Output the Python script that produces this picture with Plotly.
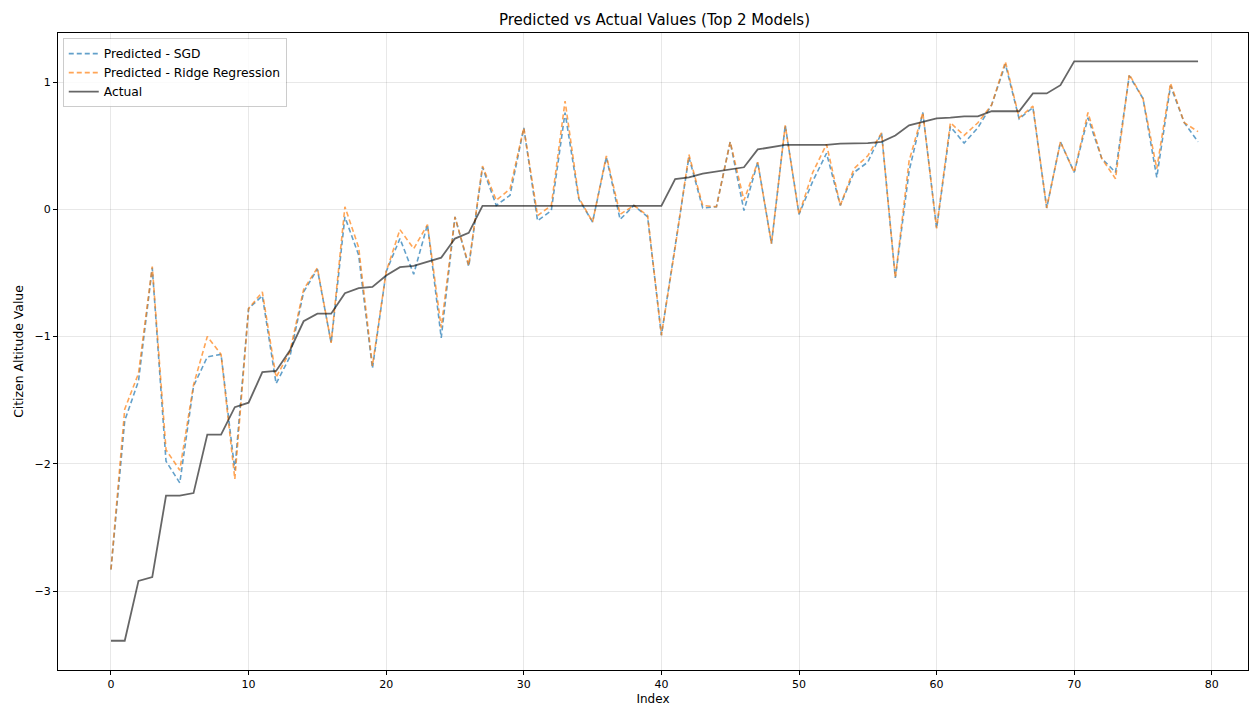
import plotly.graph_objects as go

index = list(range(80))

pred_sgd = [
    -2.83, -1.66, -1.35, -0.46, -1.98, -2.15, -1.39, -1.16, -1.14, -2.05,
    -0.78, -0.68, -1.37, -1.16, -0.65, -0.47, -1.05, -0.06, -0.36, -1.25,
    -0.49, -0.23, -0.51, -0.12, -1.01, -0.06, -0.45, 0.33, 0.03, 0.11,
    0.64, -0.09, -0.01, 0.76, 0.08, -0.10, 0.41, -0.08, 0.03, -0.06,
    -0.99, -0.30, 0.41, 0.01, 0.02, 0.53, -0.01, 0.37, -0.27, 0.66,
    -0.04, 0.22, 0.44, 0.03, 0.29, 0.37, 0.60, -0.54, 0.30, 0.76,
    -0.15, 0.65, 0.52, 0.64, 0.82, 1.14, 0.71, 0.80, 0.01, 0.53,
    0.29, 0.72, 0.40, 0.29, 1.05, 0.87, 0.25, 0.97, 0.68, 0.53,
]

pred_ridge = [
    -2.83, -1.57, -1.29, -0.45, -1.89, -2.05, -1.38, -1.00, -1.14, -2.12,
    -0.78, -0.65, -1.32, -1.12, -0.63, -0.46, -1.05, 0.02, -0.30, -1.23,
    -0.49, -0.16, -0.31, -0.12, -0.93, -0.06, -0.44, 0.34, 0.07, 0.16,
    0.64, -0.05, 0.03, 0.85, 0.09, -0.10, 0.42, -0.04, 0.03, -0.05,
    -0.99, -0.30, 0.43, 0.03, 0.02, 0.53, 0.07, 0.37, -0.27, 0.66,
    -0.04, 0.29, 0.51, 0.03, 0.32, 0.42, 0.60, -0.54, 0.38, 0.76,
    -0.15, 0.68, 0.58, 0.68, 0.82, 1.16, 0.72, 0.81, 0.01, 0.53,
    0.29, 0.76, 0.40, 0.24, 1.06, 0.87, 0.32, 0.99, 0.68, 0.61,
]

actual = [
    -3.39, -3.39, -2.92, -2.89, -2.25, -2.25, -2.23, -1.77, -1.77, -1.555,
    -1.52, -1.28, -1.27, -1.11, -0.88, -0.82, -0.82, -0.66, -0.62, -0.61,
    -0.52, -0.455, -0.445, -0.41, -0.38, -0.23, -0.185, 0.026, 0.026, 0.026,
    0.026, 0.026, 0.026, 0.026, 0.026, 0.026, 0.026, 0.026, 0.026, 0.026,
    0.026, 0.237, 0.25, 0.28, 0.295, 0.31, 0.33, 0.47, 0.487, 0.506,
    0.506, 0.506, 0.506, 0.516, 0.52, 0.52, 0.53, 0.58, 0.66, 0.69,
    0.715, 0.72, 0.73, 0.73, 0.77, 0.77, 0.77, 0.91, 0.91, 0.975,
    1.162, 1.162, 1.162, 1.162, 1.162, 1.162, 1.162, 1.162, 1.162, 1.162,
]

FONT = "DejaVu Sans"

fig = go.Figure()
fig.add_trace(go.Scatter(
    x=index, y=pred_sgd, mode="lines", name="Predicted - SGD",
    line=dict(color="rgba(31,119,180,0.7)", width=1.6, dash="5px,3px"),
))
fig.add_trace(go.Scatter(
    x=index, y=pred_ridge, mode="lines", name="Predicted - Ridge Regression",
    line=dict(color="rgba(255,127,14,0.7)", width=1.6, dash="5px,3px"),
))
fig.add_trace(go.Scatter(
    x=index, y=actual, mode="lines", name="Actual",
    line=dict(color="rgba(0,0,0,0.6)", width=1.8),
))

axis_common = dict(
    showline=True, linecolor="black", linewidth=1, mirror=True,
    showgrid=True, gridcolor="rgba(0,0,0,0.09)", gridwidth=1,
    ticks="outside", ticklen=4, tickcolor="black", tickwidth=1,
    zeroline=False, tickfont=dict(family=FONT, size=11, color="black"),
)

fig.update_layout(
    width=1249, height=708,
    margin=dict(l=58, r=1, t=33, b=38),
    paper_bgcolor="white", plot_bgcolor="white",
    font=dict(family=FONT, size=12, color="black"),
    title=dict(text="Predicted vs Actual Values (Top 2 Models)", x=0.524, xanchor="center",
               y=0.9718, yanchor="middle", font=dict(family=FONT, size=15, color="black")),
    xaxis=dict(range=[-3.85, 82.63], tickvals=[0, 10, 20, 30, 40, 50, 60, 70, 80],
               title=dict(text="Index", font=dict(family=FONT, size=12), standoff=4),
               automargin=False, **axis_common),
    yaxis=dict(range=[-3.62, 1.385], tickvals=[-3, -2, -1, 0, 1],
               title=dict(text="Citizen Altitude Value", font=dict(family=FONT, size=12.4), standoff=8),
               automargin=False, **axis_common),
    legend=dict(x=0.004, y=0.992, xanchor="left", yanchor="top",
                bgcolor="rgba(255,255,255,0.8)", bordercolor="rgba(0,0,0,0.2)", borderwidth=1,
                font=dict(family=FONT, size=12.3), tracegroupgap=0, itemwidth=30),
    showlegend=True,
)

fig.write_html("out.html", config={"displayModeBar": False},
               post_script="document.body.style.margin='0';document.body.style.overflow='hidden';")
